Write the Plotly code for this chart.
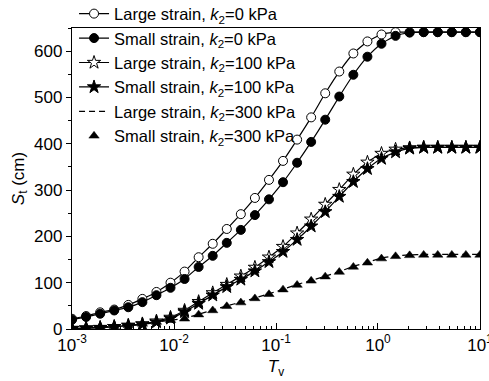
import numpy as np
import plotly.graph_objects as go

# Time factor (30 log-spaced points from 1e-3 to 1e1)
tv = np.logspace(-3, 1, 30)

large_k0 = [22, 28, 36, 42, 52, 65, 80, 100, 124, 155, 184, 216, 248, 283, 322,
            363, 409, 457, 509, 556, 595, 621, 636, 641, 641, 641, 641, 641, 641, 641]
small_k0 = [20, 26, 33, 40, 47, 58, 73, 89, 108, 134, 158, 186, 214, 246, 280,
            317, 359, 404, 452, 502, 549, 588, 616, 633, 640, 641, 641, 641, 641, 641]
large_k100 = [1, 2, 3, 5, 8, 11, 17, 25, 40, 59, 78, 96, 114, 133, 155,
              178, 207, 237, 269, 301, 334, 360, 379, 388, 391, 392, 392, 392, 392, 392]
small_k100 = [1, 2, 3, 5, 7, 10, 15, 23, 37, 55, 73, 91, 107, 125, 145,
              167, 193, 222, 253, 286, 318, 346, 368, 382, 390, 392, 392, 392, 392, 392]
large_k300 = [2, 3, 4.5, 6, 8, 11, 15, 19, 23, 32, 41, 50, 58, 67, 76,
              86, 96, 105, 114, 124, 135, 144, 153, 158, 160, 161, 161, 161, 161, 161]
small_k300 = [2, 3, 4.5, 6, 8, 11, 15, 19, 22, 31, 40, 49, 57, 66, 75,
              85, 95, 104, 113, 123, 134, 143, 152, 157, 159, 160, 160, 160, 160, 160]

names = [
    "Large strain, <i>k</i><sub>2</sub>=0 kPa",
    "Small strain, <i>k</i><sub>2</sub>=0 kPa",
    "Large strain, <i>k</i><sub>2</sub>=100 kPa",
    "Small strain, <i>k</i><sub>2</sub>=100 kPa",
    "Large strain, <i>k</i><sub>2</sub>=300 kPa",
    "Small strain, <i>k</i><sub>2</sub>=300 kPa",
]

x_ticks = [1e-3, 1e-2, 1e-1, 1e0, 1e1]
x_ticktext = ["10<sup>-3</sup>", "10<sup>-2</sup>", "10<sup>-1</sup>",
              "10<sup>0</sup>", "10<sup>1</sup>"]

FONT = "Arial, Liberation Sans, sans-serif"
fig = go.Figure()

line = dict(color="black", width=1.2, shape="spline", smoothing=0.5)

fig.add_trace(go.Scatter(x=tv, y=large_k0, name=names[0], mode="lines+markers",
                         line=line,
                         marker=dict(symbol="circle", size=9, color="white",
                                     line=dict(color="black", width=1))))
fig.add_trace(go.Scatter(x=tv, y=small_k0, name=names[1], mode="lines+markers",
                         line=line,
                         marker=dict(symbol="circle", size=9, color="black",
                                     line=dict(color="black", width=1))))
fig.add_trace(go.Scatter(x=tv, y=large_k100, name=names[2], mode="lines+markers",
                         line=line,
                         marker=dict(symbol="star", size=10, color="white",
                                     line=dict(color="black", width=1))))
fig.add_trace(go.Scatter(x=tv, y=small_k100, name=names[3], mode="lines+markers",
                         line=line,
                         marker=dict(symbol="star", size=10, color="black",
                                     line=dict(color="black", width=1))))
fig.add_trace(go.Scatter(x=tv, y=large_k300, name=names[4], mode="lines",
                         line=dict(color="black", width=1.2, dash="6px,4px",
                                   shape="spline", smoothing=0.5)))
fig.add_trace(go.Scatter(x=tv, y=small_k300, name=names[5], mode="markers",
                         marker=dict(symbol="triangle-up", size=9, color="black",
                                     line=dict(color="black", width=0.5))))

fig.update_layout(
    width=489, height=381,
    margin=dict(l=72, r=9, t=28, b=52, autoexpand=False),
    paper_bgcolor="white", plot_bgcolor="white",
    font=dict(family=FONT, size=16, color="black"),
    showlegend=True,
    legend=dict(x=0.005, y=1.105, xanchor="left", yanchor="top",
                bgcolor="rgba(0,0,0,0)", borderwidth=0,
                font=dict(family=FONT, size=16.5, color="black"),
                tracegroupgap=0, itemwidth=30),
)

fig.update_xaxes(
    type="log", range=[-3.0005, 1.0005], automargin=False,
    tickvals=x_ticks, ticktext=x_ticktext, ticklabeloverflow="allow",
    ticks="inside", ticklen=6, tickwidth=1, tickcolor="black",
    minor=dict(ticks="inside", ticklen=3, tickwidth=1, tickcolor="black", dtick="D1"),
    showline=True, linecolor="black", linewidth=1.3, mirror=True,
    showgrid=False, zeroline=False,
    title=dict(text="<i>T</i><sub>v</sub>", standoff=6, font=dict(size=17)),
    tickfont=dict(size=17),
)
fig.update_yaxes(
    range=[0, 650], dtick=100, tick0=0, automargin=False,
    ticks="outside", ticklen=5, tickwidth=1, tickcolor="black",
    minor=dict(ticks="outside", ticklen=3, tickwidth=1, tickcolor="black", dtick=50),
    showline=True, linecolor="black", linewidth=1.3, mirror=True,
    showgrid=False, zeroline=False,
    title=dict(text="<i>S</i><sub>t</sub> (cm)", standoff=5, font=dict(size=17)),
    tickfont=dict(size=17),
)

fig.write_html("out.html")
